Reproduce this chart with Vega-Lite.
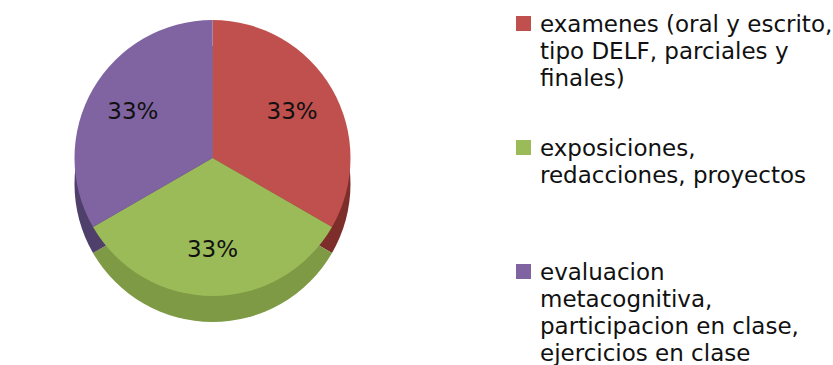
{
  "$schema": "https://vega.github.io/schema/vega-lite/v6.json",
  "width": 425,
  "height": 316,
  "padding": 0,
  "autosize": {"type": "pad"},
  "background": "white",
  "view": {"stroke": null},
  "data": {
    "values": [
      {"cat": "examenes (oral y escrito,\ntipo DELF, parciales y\nfinales)", "value": 33.33, "order": 1, "label": "33%"},
      {"cat": "exposiciones,\nredacciones, proyectos\n", "value": 33.33, "order": 2, "label": "33%"},
      {"cat": "evaluacion\nmetacognitiva,\nparticipacion en clase,\nejercicios en clase", "value": 33.34, "order": 3, "label": "33%"}
    ]
  },
  "encoding": {
    "theta": {"field": "value", "type": "quantitative", "stack": true},
    "order": {"field": "order", "type": "quantitative"}
  },
  "layer": [
    {
      "mark": {"type": "arc", "outerRadius": 138, "yOffset": 26},
      "encoding": {
        "color": {
          "field": "cat", "type": "nominal", "legend": null,
          "scale": {
            "domain": ["examenes (oral y escrito,\ntipo DELF, parciales y\nfinales)", "exposiciones,\nredacciones, proyectos\n", "evaluacion\nmetacognitiva,\nparticipacion en clase,\nejercicios en clase"],
            "range": ["#7d2e2b", "#7e9a45", "#4f3f6b"]
          }
        }
      }
    },
    {
      "mark": {"type": "arc", "outerRadius": 138},
      "encoding": {
        "color": {
          "field": "cat", "type": "nominal",
          "scale": {
            "domain": ["examenes (oral y escrito,\ntipo DELF, parciales y\nfinales)", "exposiciones,\nredacciones, proyectos\n", "evaluacion\nmetacognitiva,\nparticipacion en clase,\nejercicios en clase"],
            "range": ["#c0504d", "#9bbb59", "#8064a2"]
          },
          "legend": {
            "title": null,
            "orient": "none",
            "legendX": 512,
            "legendY": 12,
            "symbolType": "square",
            "symbolSize": 225,
            "symbolStrokeWidth": 0,
            "labelFont": "DejaVu Sans",
            "labelFontSize": 23,
            "labelColor": "#111111",
            "labelLimit": 400,
            "labelOffset": 5,
            "labelBaseline": "top",
            "rowPadding": 45,
            "labelExpr": "split(datum.label, '\\n')",
            "encode": {"labels": {"update": {"lineHeight": {"value": 27}, "dy": {"value": -10}}}}
          }
        }
      }
    },
    {
      "mark": {"type": "text", "radius": 92, "font": "DejaVu Sans", "fontSize": 23, "color": "#111111"},
      "encoding": {"text": {"field": "label", "type": "nominal"}}
    }
  ],
  "resolve": {"scale": {"color": "independent"}, "legend": {"color": "independent"}}
}
